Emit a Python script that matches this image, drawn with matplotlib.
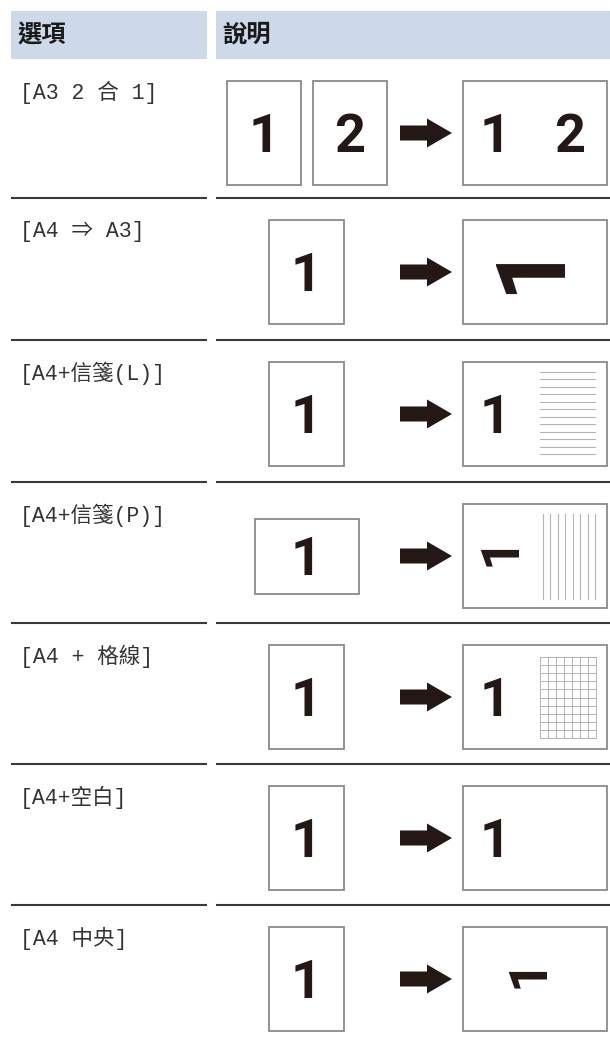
import numpy as np
import matplotlib
matplotlib.use("Agg")
import matplotlib.pyplot as plt
from matplotlib.patches import Rectangle, FancyArrow

# contenu du tableau
headers = ["選項", "說明"]
labels = ["[A3 2 合 1]", "[A4 ⇒ A3]", "[A4+信箋(L)]", "[A4+信箋(P)]",
          "[A4 + 格線]", "[A4+空白]", "[A4 中央]"]
modes = ["2in1", "enlarge", "letter_l", "letter_p", "grid", "blank", "center"]
page_digits = ["1", "2"]
n_letter_lines = 12
n_portrait_lines = 8
grid_cols, grid_rows = 7, 10

# mise en page (pixels)
W, H = 610, 1038
row_seps = [198, 340, 482, 623, 764, 905]
row_tops = [59] + row_seps
hdr_color = "#cdd8e8"
ink = "#231815"
edge = "#8a8a8a"
mono = ["Liberation Mono", "Noto Sans CJK TC", "DejaVu Sans Mono"]
cjk = ["Noto Sans CJK TC", "DejaVu Sans"]
digit_font = "Roboto"

fig = plt.figure(figsize=(W / 100, H / 100), dpi=100)
ax = fig.add_axes([0, 0, 1, 1])
ax.set_xlim(0, W)
ax.set_ylim(H, 0)
ax.axis("off")

PX = 100 / 72  # px par point


def page(cx, cy, w, h):
    ax.add_patch(Rectangle((cx - w / 2, cy - h / 2), w, h, facecolor="white",
                           edgecolor=edge, lw=1.3, zorder=2))


def digit(x, y, s, fs, rot=0):
    if rot == 0:
        ax.text(x, y + 0.355 * fs * PX, s, fontsize=fs, fontweight="bold",
                family=digit_font, color=ink, ha="center", va="baseline", zorder=3)
    else:
        ax.text(x, y, s, fontsize=fs, fontweight="bold", family=digit_font,
                color=ink, ha="center", va="center", rotation=rot, zorder=3)


def arrow(cy):
    ax.add_patch(FancyArrow(400, cy, 52, 0, width=15, head_width=29, head_length=25,
                            length_includes_head=True, color=ink, lw=0, zorder=3))


# en-tête
ax.add_patch(Rectangle((11, 11), 196, 48, color=hdr_color, lw=0))
ax.add_patch(Rectangle((216, 11), W - 216, 48, color=hdr_color, lw=0))
ax.text(18, 35, headers[0], fontsize=17.5, fontweight="bold", family=cjk,
        color="#1a1a1a", va="center")
ax.text(222, 35, headers[1], fontsize=17.5, fontweight="bold", family=cjk,
        color="#1a1a1a", va="center")

# séparateurs
for y in row_seps:
    ax.plot([11, 207], [y, y], color="#3a3a3a", lw=1.5, solid_capstyle="butt")
    ax.plot([216, W], [y, y], color="#3a3a3a", lw=1.5, solid_capstyle="butt")

sx, bx = 306.5, 535  # centres des pages
sw, bw, ph = 75, 144, 104
for top, lab, mode in zip(row_tops, labels, modes):
    cy = top + 74
    ax.text(20, top + 33, lab, fontsize=15.5, family=mono, color="#333333", va="center")
    arrow(cy)
    # page d'origine
    if mode == "2in1":
        for cx, d in zip([264, 350], page_digits):
            page(cx, cy, 74, ph)
            digit(cx, cy, d, 39)
    elif mode == "letter_p":
        page(sx, cy, ph, sw)
        digit(sx, cy, "1", 39)
    else:
        page(sx, cy, sw, ph)
        digit(sx, cy, "1", 39)
    # page copiée
    page(bx, cy, bw, ph)
    left, ptop = bx - bw / 2, cy - ph / 2
    if mode == "2in1":
        digit(495, cy, page_digits[0], 39)
        digit(570, cy, page_digits[1], 39)
    elif mode == "enlarge":
        digit(532, cy - 6, "1", 70, rot=90)
    elif mode == "letter_p":
        digit(501, cy - 5, "1", 39, rot=90)
        for x in np.linspace(left + 80, left + 132, n_portrait_lines):
            ax.plot([x, x], [ptop + 10, ptop + 95], color="#b4b4b4", lw=0.8, zorder=3)
    elif mode == "center":
        digit(529, cy - 6, "1", 39, rot=90)
    else:
        digit(495, cy, "1", 39)
    if mode == "letter_l":
        for y in np.linspace(ptop + 10, ptop + 92, n_letter_lines):
            ax.plot([540, 595], [y, y], color="#b4b4b4", lw=0.8, zorder=3)
    elif mode == "grid":
        gx = np.linspace(left + 77, left + 133, grid_cols + 1)
        gy = np.linspace(ptop + 12, ptop + 93, grid_rows + 1)
        for x in gx:
            ax.plot([x, x], [gy[0], gy[-1]], color="#b4b4b4", lw=0.7, zorder=3)
        for y in gy:
            ax.plot([gx[0], gx[-1]], [y, y], color="#b4b4b4", lw=0.7, zorder=3)

fig.savefig("out.png", dpi=100, facecolor="white")
